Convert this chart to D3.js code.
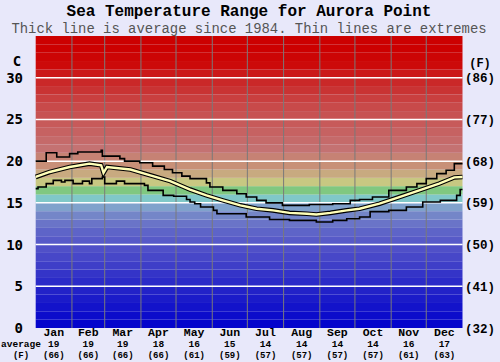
<!DOCTYPE html>
<html>
<head>
<meta charset="utf-8">
<script src="https://cdn.jsdelivr.net/npm/d3@7"></script>
<style>
body { margin:0; background:#e8e8fa; }
svg text { font-family:"Liberation Mono", "Courier New", monospace; }
svg text.sans { font-family:"DejaVu Sans Mono", monospace; }
</style>
</head>
<body>
<svg id="chart" width="500" height="362"></svg>
<script>
var months = ["Jan","Feb","Mar","Apr","May","Jun","Jul","Aug","Sep","Oct","Nov","Dec"];
var monthStart = [0,31,59,90,120,151,181,212,243,273,304,334,365];
var avgC = [19,19,19,18,16,15,14,14,14,14,16,17];
var avgF = [66,66,66,66,61,59,57,57,57,57,61,63];
var cTicks = [0,5,10,15,20,25,30];
var fTicks = ["(32)","(41)","(50)","(59)","(68)","(77)","(86)"];

// day of year -> temperature (C)
var maxDay  = [0,9,18,25,29,36,56,57,70,72,76,89,100,110,117,125,132,146,149,160,172,180,189,197,211,234,254,269,277,288,302,317,326,334,343,351,358,365];
var maxTemp = [20.0,21.0,20.5,20.5,20.9,21.1,21.3,20.6,20.6,20.3,20.0,19.8,19.4,19.0,18.6,18.2,17.9,17.4,16.9,16.5,16.1,15.7,15.3,15.0,14.7,14.8,14.9,15.3,15.4,15.7,16.5,16.9,17.3,17.9,18.5,18.9,19.7,19.7];

var avgDay  = [0,12,29,46,56,58,61,81,98,115,132,146,160,175,189,203,217,232,240,252,266,277,294,311,328,345,358,365];
var avgTemp = [18.1,18.7,19.3,19.7,19.5,18.6,19.3,19.0,18.3,17.6,16.6,15.9,15.3,14.7,14.3,14.1,13.8,13.7,13.6,13.8,14.1,14.3,14.9,15.7,16.5,17.3,18.05,18.1];

var minDay  = [0,2,9,15,22,25,32,40,46,48,57,59,68,69,75,76,93,96,109,118,129,132,136,141,152,155,166,180,200,217,240,254,266,277,283,286,302,317,331,346,360,363,365];
var minTemp = [16.7,16.9,17.3,17.7,17.5,17.7,17.3,17.6,17.3,17.9,18.1,17.3,17.3,17.6,17.6,17.3,17.1,16.5,15.9,15.8,15.4,15.1,14.9,14.5,14.1,13.7,13.7,13.3,13.0,12.9,12.7,12.9,13.1,13.3,13.3,13.95,14.1,14.5,15.1,15.3,15.9,16.6,16.6];

var svg = d3.select("#chart");
var x = d3.scaleLinear().domain([0,365]).range([35.7,462.5]);
var y = d3.scaleLinear().domain([0,35]).range([328,36]);

// colour of each 1 degree stripe, by its midpoint
var bandColor = d3.scaleLinear()
    .domain([0.5,4.5,9.5,11.5,12.5,13.5,14.5,15.5,16.5,17.5,18.5,19.5,20.5,21.5,23.5,26.5,29.5,31.5,33.5])
    .range(["#0404cc","#2222c8","#5050c8","#5e64c8","#6a74c8","#7486c8","#80a2cc","#80c8c8","#80c880","#c8c882","#c8aa80","#c89078","#c68274","#c47272","#c66262","#c84a4a","#ca2828","#cc0a0a","#cc0000"]);

svg.append("g").selectAll("rect").data(d3.range(0,35)).enter()
    .append("rect")
    .attr("x", x(0))
    .attr("width", x(365)-x(0))
    .attr("y", function(d){ return y(d+1); })
    .attr("height", function(d){ return y(d)-y(d+1); })
    .attr("fill", function(d){ return bandColor(d+0.5); });

// month lines
svg.append("g").selectAll("line").data(monthStart.slice(1,12)).enter()
    .append("line")
    .attr("x1", function(d){ return x(d); }).attr("x2", function(d){ return x(d); })
    .attr("y1", y(35)).attr("y2", y(0))
    .attr("stroke", "#7a7a7a").attr("stroke-width", 1);

// white grid
svg.append("g").selectAll("line").data(cTicks.slice(1)).enter()
    .append("line")
    .attr("x1", x(0)).attr("x2", x(365))
    .attr("y1", function(d){ return y(d); }).attr("y2", function(d){ return y(d); })
    .attr("stroke", "#fff").attr("stroke-width", 1.5);

function pts(days, temps){ return days.map(function(d,i){ return [d, temps[i]]; }); }

var stepLine = d3.line().curve(d3.curveStepAfter)
    .x(function(d){ return x(d[0]); }).y(function(d){ return y(d[1]); });
var smoothLine = d3.line()
    .x(function(d){ return x(d[0]); }).y(function(d){ return y(d[1]); });

svg.append("path").attr("d", stepLine(pts(maxDay,maxTemp)))
    .attr("fill","none").attr("stroke","#000").attr("stroke-width",1.6);
svg.append("path").attr("d", stepLine(pts(minDay,minTemp)))
    .attr("fill","none").attr("stroke","#000").attr("stroke-width",1.6);
svg.append("path").attr("d", smoothLine(pts(avgDay,avgTemp)))
    .attr("fill","none").attr("stroke","#000").attr("stroke-width",4.6);
svg.append("path").attr("d", smoothLine(pts(avgDay,avgTemp)))
    .attr("fill","none").attr("stroke","#ffffb8").attr("stroke-width",2.4);

// titles
svg.append("text").attr("x",249).attr("y",16).attr("text-anchor","middle")
    .style("font-size","16px").style("font-weight","bold").attr("fill","#000")
    .text("Sea Temperature Range for Aurora Point");
svg.append("text").attr("x",249).attr("y",32.5).attr("text-anchor","middle")
    .style("font-size","13.9px").attr("fill","#555")
    .text("Thick line is average since 1984. Thin lines are extremes");

// axes labels
svg.append("text").attr("class","sans").attr("x",17).attr("y",66).attr("text-anchor","middle")
    .style("font-size","14px").style("font-weight","bold").text("C");
svg.append("g").selectAll("text").data(cTicks).enter()
    .append("text").attr("class","sans")
    .attr("x",23).attr("y", function(d){ return y(d)+5; })
    .attr("text-anchor","end")
    .style("font-size","14px").style("font-weight","bold")
    .text(function(d){ return d; });

svg.append("text").attr("x",480).attr("y",67).attr("text-anchor","middle")
    .style("font-size","12px").style("font-weight","bold").text("(F)");
svg.append("g").selectAll("text").data(fTicks).enter()
    .append("text")
    .attr("x",465).attr("y", function(d,i){ return y(cTicks[i])+4.5; })
    .style("font-size","12.5px").style("font-weight","bold")
    .text(function(d){ return d; });

// month labels
var mg = svg.append("g").selectAll("g").data(months).enter().append("g")
    .attr("transform", function(d,i){ return "translate(" + x((monthStart[i]+monthStart[i+1])/2) + ",0)"; });
mg.append("text").attr("y",335.5).attr("text-anchor","middle")
    .style("font-size","11.5px").style("font-weight","bold").text(function(d){ return d; });
mg.append("text").attr("y",347).attr("text-anchor","middle")
    .style("font-size","9.5px").style("font-weight","bold").text(function(d,i){ return avgC[i]; });
mg.append("text").attr("y",357.5).attr("text-anchor","middle")
    .style("font-size","9px").style("font-weight","bold").text(function(d,i){ return "(" + avgF[i] + ")"; });

svg.append("text").attr("x",21).attr("y",347).attr("text-anchor","middle")
    .style("font-size","9.5px").style("font-weight","bold").text("average");
svg.append("text").attr("x",21).attr("y",357.5).attr("text-anchor","middle")
    .style("font-size","9px").style("font-weight","bold").text("(F)");
</script>
</body>
</html>
